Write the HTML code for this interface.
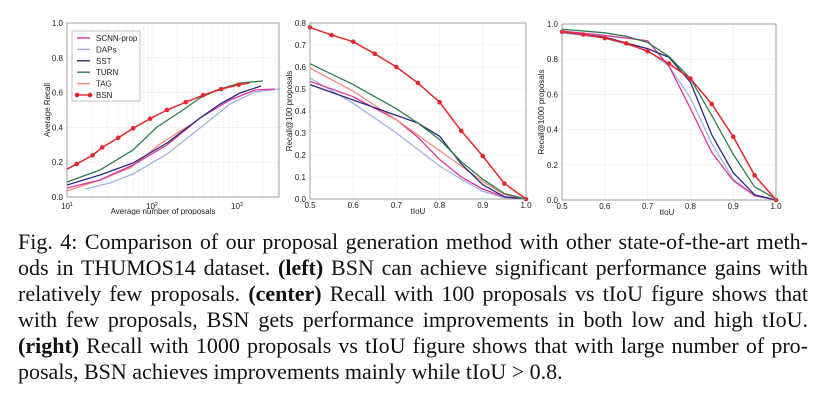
<!DOCTYPE html>
<html><head><meta charset="utf-8"><style>
html,body{margin:0;padding:0;background:#fff;width:823px;height:400px;overflow:hidden}
svg{position:absolute;left:0;top:0}
.cap{position:absolute;left:18px;width:790px;font-family:"Liberation Serif",serif;font-size:22px;color:#111;white-space:nowrap;line-height:26px}
.j{text-align:justify;text-align-last:justify;white-space:normal}
</style></head><body>
<svg id="s" width="823" height="215" xmlns="http://www.w3.org/2000/svg" font-family="Liberation Sans, sans-serif"></svg>
<div class="cap j" style="top:229px">Fig. 4: Comparison of our proposal generation method with other state-of-the-art meth-</div>
<div class="cap j" style="top:255px">ods in THUMOS14 dataset. <b>(left)</b> BSN can achieve significant performance gains with</div>
<div class="cap j" style="top:281px">relatively few proposals. <b>(center)</b> Recall with 100 proposals vs tIoU figure shows that</div>
<div class="cap j" style="top:307px">with few proposals, BSN gets performance improvements in both low and high tIoU.</div>
<div class="cap j" style="top:333px"><b>(right)</b> Recall with 1000 proposals vs tIoU figure shows that with large number of pro-</div>
<div class="cap" style="top:359px">posals, BSN achieves improvements mainly while tIoU &gt; 0.8.</div>
<script>
var s=document.getElementById('s'),h='';
var C={BSN:'#e8262a',TURN:'#2e7d4f',SST:'#2b2a80',SCNN:'#e0339a',DAPs:'#9fb3e0',TAG:'#f08a7a'};
function line(x1,y1,x2,y2,c,w,d){h+='<line x1="'+x1+'" y1="'+y1+'" x2="'+x2+'" y2="'+y2+'" stroke="'+c+'" stroke-width="'+w+'"'+(d?' stroke-dasharray="'+d+'"':'')+'/>';}
function txt(x,y,t,a,extra){h+='<text x="'+x+'" y="'+y+'" font-size="8" fill="#222" text-anchor="'+(a||'middle')+'" '+(extra||'')+'>'+t+'</text>';}
function pl(pts,c,w){h+='<polyline fill="none" stroke="'+c+'" stroke-width="'+(w||1.3)+'" points="'+pts.map(p=>p.join(',')).join(' ')+'"/>';}
function mk(pts,c){pts.forEach(p=>{h+='<circle cx="'+p[0]+'" cy="'+p[1]+'" r="2.3" fill="'+c+'"/>';});}
// LEFT
var L=67,R=279,T=23,B=197;
function lx(n){return 67+85*Math.log10(n/10);}function ly(r){return 197-174*r;}
for(var d=10;d<=1000;d*=10)for(var k=1;k<10;k++){var n=d*k;var x=lx(n);if(x>L&&x<R)line(x,T,x,B,'#ddd',0.6,'1,1');}
for(var r=0.2;r<1;r+=0.2)line(L,ly(r),R,ly(r),'#ddd',0.6,'1,1');
for(var r=0;r<=1.001;r+=0.2)txt(63,ly(r)+3,r.toFixed(1),'end');
[[10,'10'],[100,'10'],[1000,'10']].forEach((v,i)=>{var x=lx(v[0]);h+='<text x="'+x+'" y="209" font-size="8" text-anchor="middle" fill="#222">10<tspan font-size="5.5" dy="-3">'+(i+1)+'</tspan></text>';});
txt(163,214,'Average number of proposals');
txt(0,0,'Average Recall','middle','transform="translate(50,110) rotate(-90)"');
pl([[67,191],[100,180],[130,168],[160,144],[190,125]],C.TAG);
pl([[85,189],[110,183],[133,174],[167,154],[200,128],[230,104],[255,92],[280,89]],C.DAPs);
pl([[67,188],[100,180],[133,165],[167,145],[200,118],[230,100],[255,90],[275,89]],C.SCNN);
pl([[67,185],[100,175],[133,163],[167,143],[200,118],[220,104],[240,93],[261,86]],C.SST);
pl([[67,182],[100,170],[133,150],[157,127],[180,112],[200,98],[217,90],[240,83],[263,81]],C.TURN);
var bl=[[13,.19],[20,.24],[26,.285],[40,.34],[60,.395],[95,.45],[150,.50],[250,.545],[400,.585],[650,.62],[1050,.645]].map(p=>[lx(p[0]),ly(p[1])]);
pl([[67,169.2]].concat(bl).concat([[lx(1400),ly(.655)]]),C.BSN,1.5);mk(bl,C.BSN);
h+='<rect x="'+L+'" y="'+T+'" width="'+(R-L)+'" height="'+(B-T)+'" fill="none" stroke="#888" stroke-width="0.8"/>';
h+='<rect x="72" y="31" width="68" height="70" fill="#fff" stroke="#999" stroke-width="0.6"/>';
[['SCNN-prop',C.SCNN],['DAPs',C.DAPs],['SST',C.SST],['TURN',C.TURN],['TAG',C.TAG],['BSN',C.BSN]].forEach((e,i)=>{var y=38+i*11.4;line(77,y,90,y,e[1],1.4);if(i==5)mk([[77,y],[90,y]],e[1]);txt(96,y+3,e[0],'start');});
// MIDDLE
function mx(t){return 310+432*(t-0.5);}function my(r){return 199-220*r;}
for(var t=0.6;t<0.99;t+=0.1)line(mx(t),23,mx(t),199,'#ddd',0.6,'1,1');
for(var r=0.1;r<0.79;r+=0.1)line(310,my(r),526,my(r),'#ddd',0.6,'1,1');
for(var r=0;r<=0.801;r+=0.1)txt(306,my(r)+3,r.toFixed(1),'end');
for(var t=0.5;t<=1.001;t+=0.1)txt(mx(t),208,t.toFixed(1));
txt(418,214,'tIoU');txt(0,0,'Recall@100 proposals','middle','transform="translate(292,111) rotate(-90)"');
function ser(f,g,a){return a.map(p=>[f(p[0]),g(p[1])]);}
var M={DAPs:[[.5,.55],[.6,.435],[.7,.3],[.8,.15],[.85,.09],[.9,.035],[.95,.005],[1,0]],
SCNN:[[.5,.535],[.6,.465],[.7,.36],[.75,.28],[.8,.18],[.85,.1],[.9,.045],[.95,.01],[1,0]],
TAG:[[.5,.595],[.6,.49],[.7,.36],[.8,.22],[.9,.08],[.95,.02],[1,0]],
SST:[[.5,.52],[.6,.45],[.65,.415],[.7,.38],[.75,.345],[.8,.285],[.85,.16],[.9,.065],[.95,.01],[1,0]],
TURN:[[.5,.615],[.6,.52],[.7,.41],[.75,.345],[.8,.27],[.85,.17],[.9,.09],[.95,.025],[1,0]]};
for(var k in M)pl(ser(mx,my,M[k]),C[k]);
var mb=ser(mx,my,[[.5,.78],[.55,.745],[.6,.715],[.65,.66],[.7,.6],[.75,.527],[.8,.44],[.85,.31],[.9,.195],[.95,.07],[1,0]]);
pl(mb,C.BSN,1.5);mk(mb,C.BSN);
h+='<rect x="310" y="23" width="216" height="176" fill="none" stroke="#888" stroke-width="0.8"/>';
// RIGHT
function rx(t){return 562+428*(t-0.5);}function ry(r){return 200-176*r;}
for(var t=0.6;t<0.99;t+=0.1)line(rx(t),24,rx(t),200,'#ddd',0.6,'1,1');
for(var r=0.2;r<0.99;r+=0.2)line(562,ry(r),776,ry(r),'#ddd',0.6,'1,1');
for(var r=0;r<=1.001;r+=0.2)txt(558,ry(r)+3,r.toFixed(1),'end');
for(var t=0.5;t<=1.001;t+=0.1)txt(rx(t),209,t.toFixed(1));
txt(667,215,'tIoU');txt(0,0,'Recall@1000 proposals','middle','transform="translate(544,112) rotate(-90)"');
var Rr={DAPs:[[.5,.95],[.6,.92],[.7,.85],[.75,.76],[.8,.58],[.85,.32],[.9,.12],[.95,.025],[1,0]],
SCNN:[[.5,.96],[.6,.935],[.7,.905],[.75,.76],[.8,.52],[.85,.27],[.9,.11],[.95,.025],[1,0]],
SST:[[.5,.955],[.6,.925],[.7,.86],[.75,.81],[.8,.67],[.85,.37],[.9,.155],[.95,.03],[1,0]],
TURN:[[.5,.97],[.6,.95],[.65,.93],[.7,.895],[.75,.815],[.8,.69],[.85,.48],[.9,.26],[.95,.075],[1,.005]]};
for(var k in Rr)pl(ser(rx,ry,Rr[k]),C[k]);
var rb=ser(rx,ry,[[.5,.955],[.55,.94],[.6,.92],[.65,.89],[.7,.845],[.75,.775],[.8,.69],[.85,.545],[.9,.36],[.95,.14],[1,0]]);
pl(rb,C.BSN,1.5);mk(rb,C.BSN);
h+='<rect x="562" y="24" width="214" height="176" fill="none" stroke="#888" stroke-width="0.8"/>';
s.innerHTML=h;
</script>
</body></html>
